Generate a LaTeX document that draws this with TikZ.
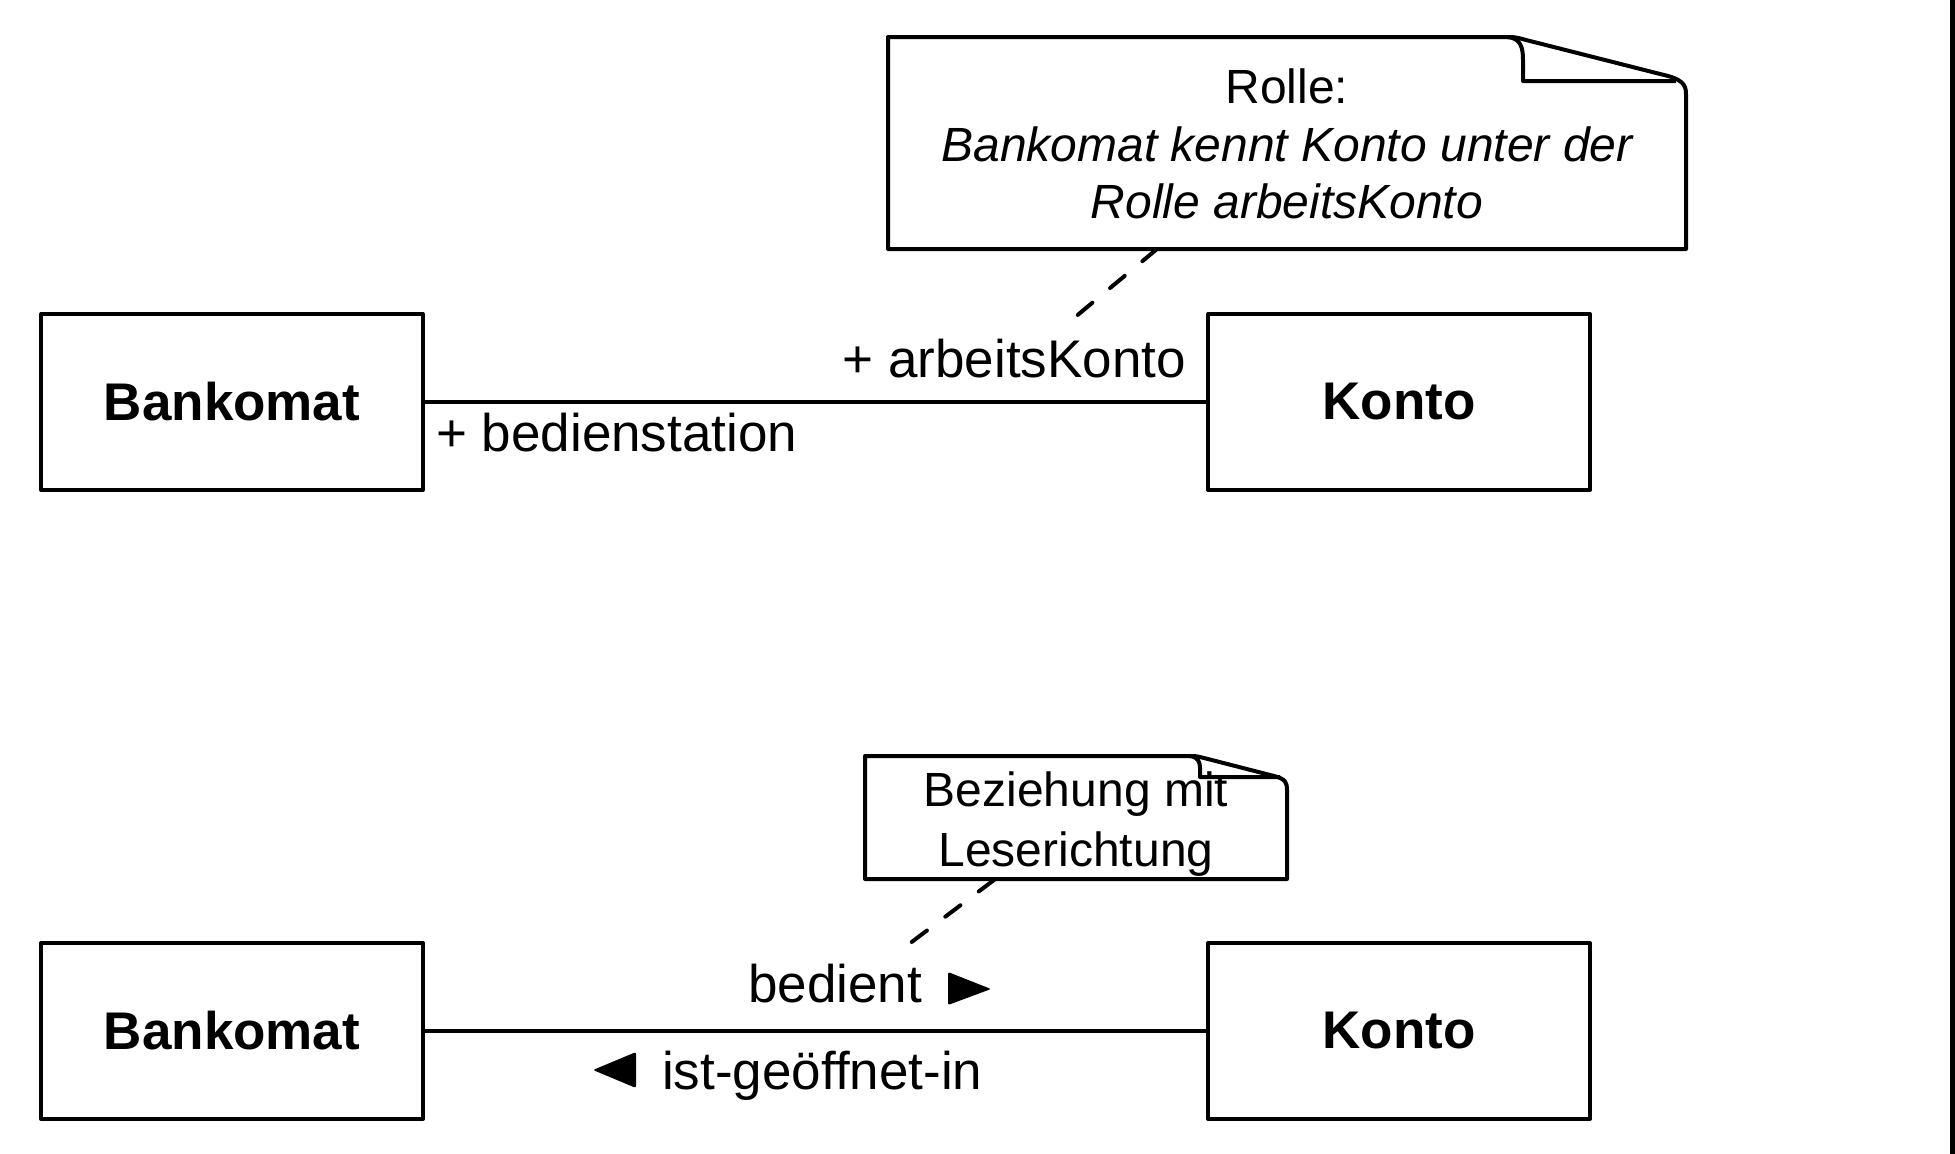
\documentclass[tikz,border=0pt]{standalone}
\usepackage{fontspec}
\setmainfont{Liberation Sans}
\begin{document}
\begin{tikzpicture}[x=1pt,y=-1pt,
  cls/.style={draw,line width=4pt,line join=round,minimum width=382pt,minimum height=176pt,inner sep=0pt,
    font=\fontsize{53}{64}\selectfont\bfseries},
  lbl/.style={inner sep=0pt,font=\fontsize{53}{64}\selectfont},
  notetxt/.style={inner sep=0pt,font=\fontsize{48}{57.5}\selectfont,align=center},
  notebox/.style={line width=4pt,line join=round,fill=white},
  assoc/.style={line width=3.5pt},
  anchorline/.style={line width=4pt,line cap=round,dash pattern=on 19pt off 23pt}]
\useasboundingbox (0,0) rectangle (1955,1154);
\fill[white] (0,0) rectangle (1955,1154);
% right edge line
\draw[line width=5pt] (1952.5,0) -- (1952.5,1154);

% ---------- top diagram ----------
\node[cls] (b1) at (232,402) {Bankomat};
\node[cls] (k1) at (1399,402) {Konto};
\draw[assoc] (b1.east) -- (k1.west);
\node[lbl,anchor=base east] (r1) at (1186,377) {+ arbeitsKonto};
\node[lbl,anchor=base west] (r2) at (436,451) {+ bedienstation};

% note 1
\draw[notebox] (888,37) -- (1505,37) .. controls (1515,37) .. (1526,40) -- (1668,76)
  .. controls (1686,81) and (1686,88) .. (1686,96) -- (1686,249) -- (888,249) -- cycle;
\draw[notebox,fill=none] (1507,37) .. controls (1521,38) and (1523,48) .. (1523,60) -- (1523,81) -- (1676,81);
\node[notetxt,anchor=base] (n1a) at (1287,103.5) {Rolle:};
\node[notetxt,anchor=base] (n1b) at (1287,161.5) {\itshape Bankomat kennt Konto unter der};
\node[notetxt,anchor=base] (n1c) at (1287,218.5) {\itshape Rolle arbeitsKonto};
\coordinate (n1) at (1157,249);
\coordinate (e1) at (1068,323);
\draw[anchorline] (n1) -- (e1);

% ---------- bottom diagram ----------
\node[cls] (b2) at (232,1031) {Bankomat};
\node[cls] (k2) at (1399,1031) {Konto};
\draw[assoc] (b2.east) -- (k2.west);
\node[lbl,anchor=base west] (l1) at (748,1002) {bedient};
\fill[rounded corners=2pt] (948,972) -- (991,989) -- (948,1005) -- cycle;
\node[lbl,anchor=base west] (l2) at (662,1089) {ist-geöffnet-in};
\fill[rounded corners=2pt] (636,1052) -- (593,1070) -- (636,1088) -- cycle;

% note 2
\draw[notebox] (865,756) -- (1188,756) .. controls (1196,756) .. (1204,758) -- (1274,776)
  .. controls (1286,779) and (1287,783) .. (1287,790) -- (1287,879) -- (865,879) -- cycle;
\draw[notebox,fill=none] (1190,756) .. controls (1198,757) and (1200,762) .. (1200,768) -- (1200,777) -- (1280,777);
\node[notetxt,anchor=base] (n2a) at (1076,806) {Beziehung mit};
\node[notetxt,anchor=base] (n2b) at (1076,866) {Leserichtung};
\coordinate (n2) at (994,880);
\coordinate (e2) at (909,944);
\draw[anchorline] (n2) -- (e2);
\end{tikzpicture}
\end{document}
